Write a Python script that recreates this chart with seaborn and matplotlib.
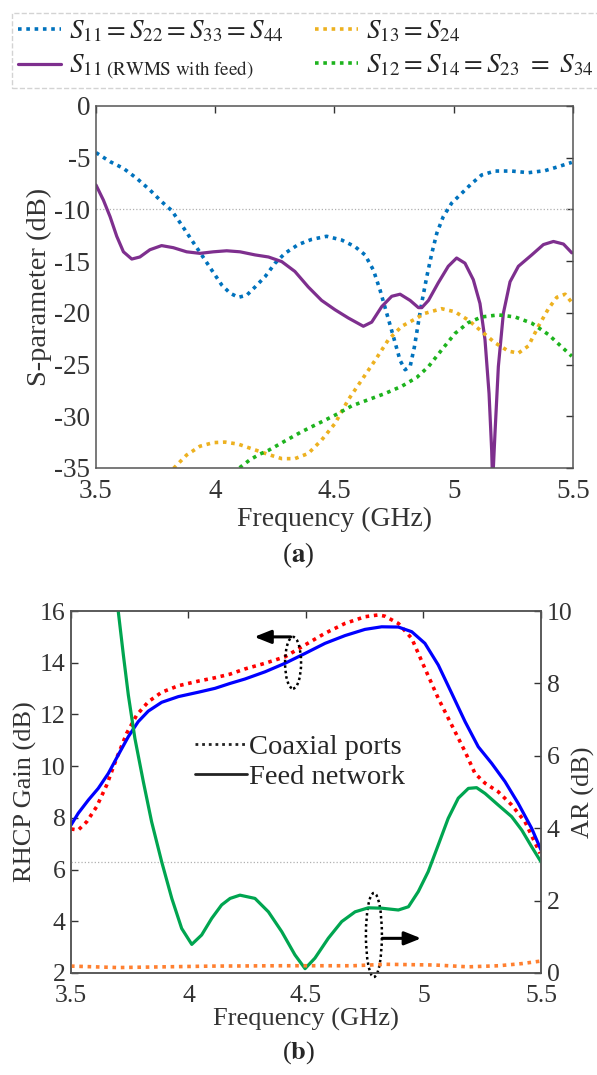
import numpy as np
import pandas as pd
import matplotlib
matplotlib.use("Agg")
import matplotlib.pyplot as plt
import seaborn as sns
from matplotlib.patches import Ellipse
from matplotlib.lines import Line2D

sns.set_style("white")
plt.rcParams['font.family'] = ['Liberation Serif', 'DejaVu Serif']
plt.rcParams['mathtext.fontset'] = 'stix'

# ---------------- data (a) ----------------
f_s11 = [3.5, 3.559, 3.615, 3.671, 3.726, 3.775, 3.817, 3.859, 3.901, 3.943, 3.985, 4.027,
         4.062, 4.097, 4.132, 4.167, 4.209, 4.251, 4.292, 4.348, 4.404, 4.467, 4.53, 4.586,
         4.628, 4.663, 4.691, 4.719, 4.747, 4.775, 4.796, 4.817, 4.835, 4.852, 4.866, 4.887,
         4.908, 4.929, 4.956, 4.991, 5.033, 5.075, 5.117, 5.173, 5.243, 5.313, 5.383, 5.438,
         5.495]
s11 = [-4.51, -5.38, -6.03, -7.0, -8.12, -9.25, -10.1, -11.5, -12.96, -14.4, -15.86, -17.3,
       -18.1, -18.5, -18.3, -17.5, -16.5, -15.2, -14.25, -13.4, -12.9, -12.6, -12.96, -13.6,
       -14.4, -15.86, -17.8, -20.05, -22.3, -24.6, -25.5, -25.2, -23.3, -20.9, -19.0, -16.5,
       -14.25, -12.3, -10.7, -9.4, -8.45, -7.5, -6.67, -6.29, -6.29, -6.45, -6.25, -5.87,
       -5.45]

f_rw = [3.5, 3.531, 3.559, 3.587, 3.615, 3.65, 3.684, 3.726, 3.775, 3.824, 3.880, 3.936,
        3.992, 4.048, 4.104, 4.167, 4.223, 4.279, 4.334, 4.39, 4.446, 4.502, 4.558, 4.621,
        4.656, 4.698, 4.74, 4.775, 4.817, 4.852, 4.866, 4.894, 4.935, 4.977, 5.012, 5.047,
        5.082, 5.11, 5.131, 5.148, 5.159, 5.163, 5.173, 5.187, 5.208, 5.236, 5.271, 5.327,
        5.376, 5.418, 5.46, 5.495]
s11_rw = [-7.64, -9.1, -10.7, -12.6, -14.1, -14.8, -14.6, -13.9, -13.5, -13.7, -14.1, -14.25,
          -14.1, -14.0, -14.1, -14.4, -14.6, -15.05, -16.0, -17.5, -18.8, -19.7, -20.5, -21.3,
          -20.9, -19.4, -18.4, -18.2, -18.8, -19.5, -19.5, -18.8, -17.1, -15.5, -14.7, -15.2,
          -16.8, -19.1, -22.6, -27.8, -33.3, -36.5, -31.6, -25.2, -20.05, -17.0, -15.5, -14.4,
          -13.4, -13.1, -13.35, -14.2]

f_s13 = [3.80, 3.827, 3.880, 3.936, 3.992, 4.041, 4.097, 4.160, 4.223, 4.279, 4.334, 4.39,
         4.446, 4.502, 4.558, 4.614, 4.67, 4.726, 4.782, 4.838, 4.879, 4.949, 5.005, 5.061,
         5.117, 5.173, 5.229, 5.271, 5.313, 5.355, 5.397, 5.432, 5.467, 5.495]
s13 = [-35.6, -35.0, -33.75, -32.9, -32.55, -32.5, -32.7, -33.2, -33.7, -34.1, -34.1, -33.6,
       -32.3, -30.7, -28.4, -26.5, -24.6, -22.6, -21.3, -20.6, -20.05, -19.6, -19.9, -20.7,
       -21.8, -22.9, -23.7, -23.9, -23.2, -21.3, -19.6, -18.5, -18.2, -19.0]

f_s12 = [4.08, 4.101, 4.146, 4.188, 4.223, 4.292, 4.362, 4.432, 4.502, 4.572, 4.642, 4.712,
         4.782, 4.845, 4.894, 4.949, 5.005, 5.061, 5.117, 5.187, 5.257, 5.327, 5.397, 5.453,
         5.495]
s12 = [-35.6, -35.0, -34.2, -33.65, -33.3, -32.4, -31.5, -30.7, -29.9, -29.0, -28.4, -27.8,
       -27.1, -26.25, -25.2, -23.6, -22.0, -20.95, -20.4, -20.2, -20.4, -21.0, -22.1, -23.3,
       -24.2]

# ---------------- data (b) ----------------
f_gf = [3.5, 3.531, 3.574, 3.616, 3.659, 3.701, 3.744, 3.786, 3.829, 3.886, 3.957, 4.042,
        4.113, 4.177, 4.24, 4.326, 4.411, 4.496, 4.581, 4.666, 4.751, 4.822, 4.893, 4.95,
        5.006, 5.063, 5.12, 5.177, 5.233, 5.29, 5.347, 5.403, 5.46, 5.5]
gain_feed = [7.72, 8.18, 8.69, 9.14, 9.72, 10.43, 11.14, 11.72, 12.13, 12.47, 12.69, 12.86,
             13.01, 13.2, 13.37, 13.65, 13.98, 14.36, 14.75, 15.05, 15.29, 15.39, 15.38, 15.2,
             14.75, 13.91, 12.82, 11.72, 10.75, 10.11, 9.4, 8.56, 7.6, 6.76]

f_gc = [3.5, 3.531, 3.567, 3.609, 3.652, 3.694, 3.737, 3.780, 3.829, 3.886, 3.957, 4.042,
        4.113, 4.177, 4.24, 4.326, 4.411, 4.496, 4.581, 4.666, 4.751, 4.808, 4.836, 4.893,
        4.95, 5.006, 5.063, 5.12, 5.177, 5.219, 5.262, 5.318, 5.375, 5.432, 5.496]
gain_coax = [7.57, 7.53, 7.85, 8.43, 9.27, 10.3, 11.27, 11.98, 12.49, 12.86, 13.11, 13.29,
             13.42, 13.56, 13.76, 13.98, 14.23, 14.69, 15.14, 15.52, 15.78, 15.85, 15.8, 15.52,
             14.94, 13.78, 12.62, 11.59, 10.56, 9.72, 9.34, 9.01, 8.5, 7.85, 6.63]

f_af = [3.69, 3.701, 3.723, 3.744, 3.772, 3.808, 3.843, 3.886, 3.929, 3.971, 4.014, 4.056,
        4.099, 4.141, 4.177, 4.219, 4.283, 4.34, 4.397, 4.453, 4.496, 4.538, 4.595, 4.652,
        4.709, 4.765, 4.822, 4.893, 4.936, 4.978, 5.02, 5.063, 5.105, 5.148, 5.191, 5.226,
        5.262, 5.318, 5.375, 5.418, 5.46, 5.5]
ar_feed = [10.5, 10.0, 8.78, 7.68, 6.48, 5.28, 4.18, 3.07, 2.06, 1.23, 0.79, 1.05,
           1.51, 1.88, 2.06, 2.15, 2.06, 1.69, 1.14, 0.5, 0.12, 0.41, 0.96, 1.42,
           1.69, 1.80, 1.79, 1.74, 1.83, 2.25, 2.8, 3.54, 4.27, 4.83, 5.10, 5.12,
           4.96, 4.64, 4.32, 3.95, 3.49, 3.07]

f_ac = [3.5, 3.7, 3.9, 4.1, 4.4, 4.7, 4.84, 5.05, 5.19, 5.32, 5.42, 5.5]
ar_coax = [0.19, 0.15, 0.17, 0.19, 0.2, 0.2, 0.24, 0.22, 0.17, 0.2, 0.26, 0.33]

C_BLUE = '#0072BD'
C_PURP = '#7E2F8E'
C_ORNG = '#EDB120'
C_GRN = '#1DB31D'
TXT = '#333333'
DOT = (0, (1, 1.3))

fig = plt.figure(figsize=(5.97, 10.75), dpi=100)

# ---------------- (a) ----------------
ax1 = fig.add_axes([0.1608, 0.5647, 0.7990, 0.3367])
ax1.axhline(-10, color='#b0b0b0', lw=0.9, ls=':')
sns.lineplot(x=f_s11, y=s11, ax=ax1, color=C_BLUE, lw=2.6, linestyle=DOT, sort=False)
sns.lineplot(x=f_rw, y=s11_rw, ax=ax1, color=C_PURP, lw=2.3, sort=False)
sns.lineplot(x=f_s13, y=s13, ax=ax1, color=C_ORNG, lw=2.6, linestyle=DOT, sort=False)
sns.lineplot(x=f_s12, y=s12, ax=ax1, color=C_GRN, lw=2.6, linestyle=DOT, sort=False)
ax1.set_xlim(3.5, 5.5)
ax1.set_ylim(-35, 0)
ax1.set_xticks([3.5, 4, 4.5, 5, 5.5])
ax1.set_xticklabels(['3.5', '4', '4.5', '5', '5.5'])
ax1.set_yticks(np.arange(-35, 1, 5))
ax1.set_yticklabels([str(v) for v in range(-35, 1, 5)])
ax1.set_xlabel('Frequency (GHz)', fontsize=20, color=TXT, labelpad=2)
ax1.set_ylabel('S-parameter (dB)', fontsize=20.5, color=TXT, labelpad=2)
ax1.tick_params(axis='both', direction='in', length=5, width=1, colors=TXT,
                labelsize=19.5, top=True, right=True)
ax1.tick_params(axis='x', pad=8)
ax1.tick_params(axis='y', pad=4)
for s in ax1.spines.values():
    s.set_color('#555555'); s.set_linewidth(1.1)

handles = [
    Line2D([], [], color=C_BLUE, lw=2.6, ls=DOT),
    Line2D([], [], color=C_PURP, lw=2.3),
    Line2D([], [], color=C_ORNG, lw=2.6, ls=DOT),
    Line2D([], [], color=C_GRN, lw=2.6, ls=DOT),
]
labels = [r'$S_{11} = S_{22} = S_{33} = S_{44}$',
          r'$S_{11\ \mathrm{(RWMS\ with\ feed)}}$',
          r'$S_{13} = S_{24}$',
          r'$S_{12} = S_{14} = S_{23}\ =\ S_{34}$']
leg = fig.legend(handles, labels, loc='lower left', ncol=2,
                 bbox_to_anchor=(0.02, 0.918, 0.985, 0.074), mode='expand',
                 fontsize=19.5, handlelength=1.6, handletextpad=0.3,
                 columnspacing=1.0, labelspacing=0.32, borderpad=0.22,
                 fancybox=False, frameon=True, borderaxespad=0)
fr = leg.get_frame()
fr.set_edgecolor('#c8c8c8'); fr.set_linestyle('--'); fr.set_linewidth(1.0)

fig.text(0.5, 0.484, r'($\mathbf{a}$)', ha='center', va='center', fontsize=19.5)

# ---------------- (b) ----------------
ax2 = fig.add_axes([0.1189, 0.0949, 0.7873, 0.3367])
ax2r = ax2.twinx()
ax2r.axhline(3.07, color='#b0b0b0', lw=0.9, ls=':')
sns.lineplot(x=f_gc, y=gain_coax, ax=ax2, color='#FF0000', lw=2.6, linestyle=DOT, sort=False)
sns.lineplot(x=f_gf, y=gain_feed, ax=ax2, color='#0000FF', lw=2.3, sort=False)
sns.lineplot(x=f_af, y=ar_feed, ax=ax2r, color='#00A550', lw=2.3, sort=False)
sns.lineplot(x=f_ac, y=ar_coax, ax=ax2r, color='#FF8030', lw=2.6, linestyle=DOT, sort=False)
ax2.set_xlim(3.5, 5.5)
ax2.set_ylim(2, 16)
ax2r.set_ylim(0, 10)
ax2.set_xticks([3.5, 4, 4.5, 5, 5.5])
ax2.set_xticklabels(['3.5', '4', '4.5', '5', '5.5'])
ax2.set_yticks(np.arange(2, 17, 2))
ax2r.set_yticks(np.arange(0, 11, 2))
ax2.set_xlabel('Frequency (GHz)', fontsize=19, color=TXT, labelpad=0)
ax2.set_ylabel('RHCP Gain (dB)', fontsize=19, color=TXT, labelpad=2)
ax2r.set_ylabel('AR (dB)', fontsize=19, color=TXT, labelpad=0)
ax2.tick_params(axis='both', direction='in', length=5, width=1, colors=TXT,
                labelsize=18.5, top=True, right=False)
ax2.tick_params(axis='x', pad=9)
ax2.tick_params(axis='y', pad=4)
ax2r.tick_params(axis='y', direction='in', length=5, width=1, colors=TXT,
                 labelsize=18.5, pad=4)
for a in (ax2, ax2r):
    for s in a.spines.values():
        s.set_color('#555555'); s.set_linewidth(1.1)

# annotations (ellipses + arrows)
ax2.add_patch(Ellipse((4.445, 14.0), 0.068, 2.0, fill=False, ec='black', lw=1.8,
                      ls=(0, (1, 1.2)), zorder=5, clip_on=False))
ax2.annotate('', xy=(4.28, 15.0), xytext=(4.435, 15.0),
             arrowprops=dict(arrowstyle='-|>,head_length=1.0,head_width=0.4',
                             color='black', lw=2.2, shrinkA=0, shrinkB=0))
ax2.add_patch(Ellipse((4.789, 3.47), 0.068, 3.25, fill=False, ec='black', lw=1.8,
                      ls=(0, (1, 1.2)), zorder=5, clip_on=False))
ax2.annotate('', xy=(4.99, 3.34), xytext=(4.825, 3.34),
             arrowprops=dict(arrowstyle='-|>,head_length=1.0,head_width=0.4',
                             color='black', lw=2.2, shrinkA=0, shrinkB=0))

bh = [Line2D([], [], color='#222222', lw=2.0, ls=(0, (1, 1.4))),
      Line2D([], [], color='#222222', lw=2.0)]
ax2.legend(bh, ['Coaxial ports', 'Feed network'], loc='center left',
           bbox_to_anchor=(0.21, 0.583), frameon=False, fontsize=20.5,
           handlelength=1.8, handletextpad=0.1, labelspacing=0.14)

fig.text(0.5, 0.021, r'($\mathbf{b}$)', ha='center', va='center', fontsize=19)

fig.savefig('out.png', dpi=100, facecolor='white')
